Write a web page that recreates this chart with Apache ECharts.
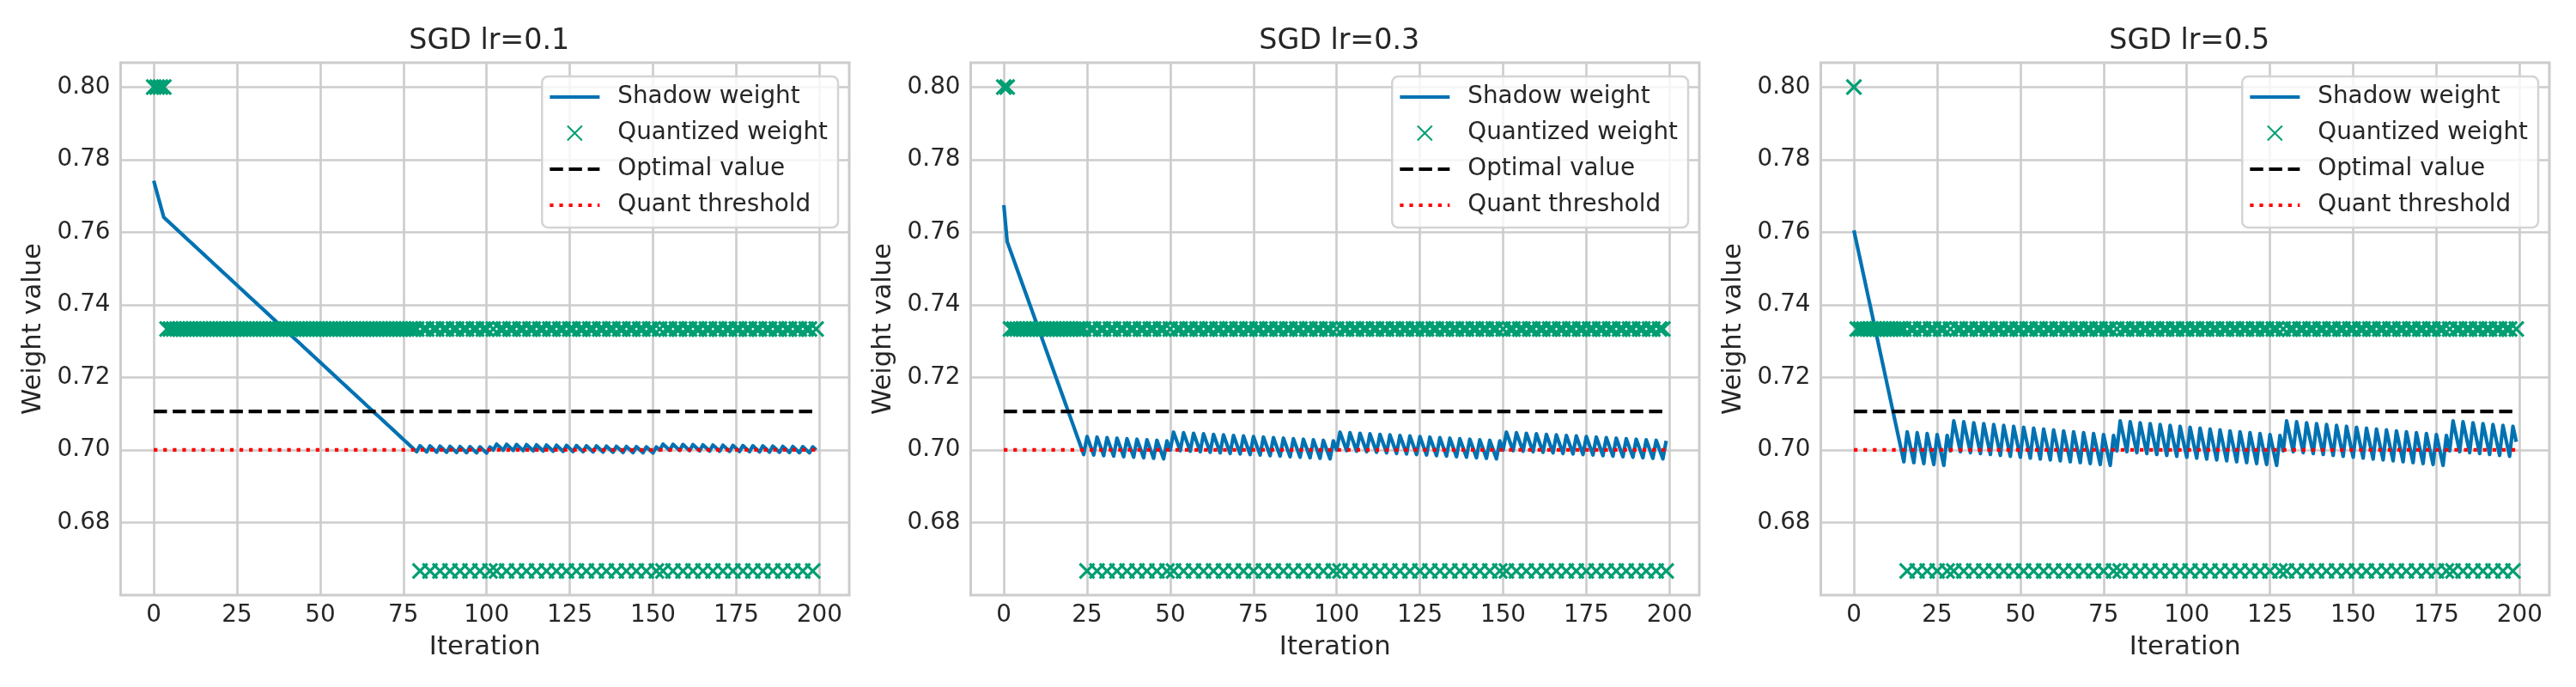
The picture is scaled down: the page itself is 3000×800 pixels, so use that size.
<!DOCTYPE html>
<html>
<head>
<meta charset="utf-8">
<script src="https://cdn.jsdelivr.net/npm/echarts@6/dist/echarts.min.js"></script>
<style>
  html, body { margin: 0; padding: 0; background: #fff; }
  #chart { width: 3000px; height: 800px; }
</style>
</head>
<body>
<div id="chart"></div>
<script>
// panel titles
const panelTitles = ['SGD lr=0.1', 'SGD lr=0.3', 'SGD lr=0.5'];
const seriesNames = ['Shadow weight', 'Quantized weight', 'Optimal value', 'Quant threshold'];

// tick labels
const xTicks = [0, 25, 50, 75, 100, 125, 150, 175, 200];
const yTicks = [0.68, 0.70, 0.72, 0.74, 0.76, 0.78, 0.80];

// reference lines
const optimalValue = 0.7106;
const quantThreshold = 0.70;

// quantization grid, indexed by the digits in the quant strings below
const quantLevels = [0.66667, 0.73333, 0.80];

// shadow weight per iteration (0..199)
const shadow01 = [
  0.77415, 0.77080, 0.76745, 0.76410,
  0.76325, 0.76240, 0.76155, 0.76070, 0.75985, 0.75900, 0.75815, 0.75730, 0.75645, 0.75560,
  0.75475, 0.75390, 0.75305, 0.75220, 0.75135, 0.75050, 0.74965, 0.74880, 0.74795, 0.74710,
  0.74625, 0.74540, 0.74455, 0.74370, 0.74285, 0.74200, 0.74115, 0.74030, 0.73945, 0.73860,
  0.73775, 0.73690, 0.73605, 0.73520, 0.73435, 0.73350, 0.73265, 0.73180, 0.73095, 0.73010,
  0.72925, 0.72840, 0.72755, 0.72670, 0.72585, 0.72500, 0.72415, 0.72330, 0.72245, 0.72160,
  0.72075, 0.71990, 0.71905, 0.71820, 0.71735, 0.71650, 0.71565, 0.71480, 0.71395, 0.71310,
  0.71225, 0.71140, 0.71055, 0.70970, 0.70885, 0.70800, 0.70715, 0.70630, 0.70545, 0.70460,
  0.70375, 0.70290, 0.70205, 0.70120, 0.70035,
  0.69950, 0.70115, 0.70030, 0.69945, 0.70110, 0.70025, 0.69940, 0.70105, 0.70020, 0.69935,
  0.70100, 0.70015, 0.69930, 0.70095, 0.70010, 0.69925, 0.70090, 0.70005, 0.69920, 0.70085,
  0.70000, 0.69915, 0.70080,
  0.69995, 0.70160, 0.70075, 0.69990, 0.70155, 0.70070, 0.69985, 0.70150, 0.70065, 0.69980,
  0.70145, 0.70060, 0.69975, 0.70140, 0.70055, 0.69970, 0.70135, 0.70050, 0.69965, 0.70130,
  0.70045, 0.69960, 0.70125, 0.70040, 0.69955, 0.70120, 0.70035, 0.69950, 0.70115, 0.70030,
  0.69945, 0.70110, 0.70025, 0.69940, 0.70105, 0.70020, 0.69935, 0.70100, 0.70015, 0.69930,
  0.70095, 0.70010, 0.69925, 0.70090, 0.70005, 0.69920, 0.70085, 0.70000, 0.69915, 0.70080,
  0.69995, 0.70160, 0.70075, 0.69990, 0.70155, 0.70070, 0.69985, 0.70150, 0.70065, 0.69980,
  0.70145, 0.70060, 0.69975, 0.70140, 0.70055, 0.69970, 0.70135, 0.70050, 0.69965, 0.70130,
  0.70045, 0.69960, 0.70125, 0.70040, 0.69955, 0.70120, 0.70035, 0.69950, 0.70115, 0.70030,
  0.69945, 0.70110, 0.70025, 0.69940, 0.70105, 0.70020, 0.69935, 0.70100, 0.70015, 0.69930,
  0.70095, 0.70010, 0.69925, 0.70090, 0.70005, 0.69920, 0.70085, 0.70000
];

const shadow03 = [
  0.76745, 0.75740, 0.75485, 0.75230, 0.74975, 0.74720, 0.74465, 0.74210, 0.73955, 0.73700,
  0.73445, 0.73190, 0.72935, 0.72680, 0.72425, 0.72170, 0.71915, 0.71660, 0.71405, 0.71150,
  0.70895, 0.70640, 0.70385, 0.70130,
  0.69875, 0.70370, 0.70115, 0.69860, 0.70355, 0.70100, 0.69845, 0.70340, 0.70085, 0.69830,
  0.70325, 0.70070, 0.69815, 0.70310, 0.70055, 0.69800, 0.70295, 0.70040, 0.69785, 0.70280,
  0.70025, 0.69770, 0.70265, 0.70010, 0.69755, 0.70250,
  0.69995, 0.70490, 0.70235, 0.69980, 0.70475, 0.70220, 0.69965, 0.70460, 0.70205, 0.69950,
  0.70445, 0.70190, 0.69935, 0.70430, 0.70175, 0.69920, 0.70415, 0.70160, 0.69905, 0.70400,
  0.70145, 0.69890, 0.70385, 0.70130, 0.69875, 0.70370, 0.70115, 0.69860, 0.70355, 0.70100,
  0.69845, 0.70340, 0.70085, 0.69830, 0.70325, 0.70070, 0.69815, 0.70310, 0.70055, 0.69800,
  0.70295, 0.70040, 0.69785, 0.70280, 0.70025, 0.69770, 0.70265, 0.70010, 0.69755, 0.70250,
  0.69995, 0.70490, 0.70235, 0.69980, 0.70475, 0.70220, 0.69965, 0.70460, 0.70205, 0.69950,
  0.70445, 0.70190, 0.69935, 0.70430, 0.70175, 0.69920, 0.70415, 0.70160, 0.69905, 0.70400,
  0.70145, 0.69890, 0.70385, 0.70130, 0.69875, 0.70370, 0.70115, 0.69860, 0.70355, 0.70100,
  0.69845, 0.70340, 0.70085, 0.69830, 0.70325, 0.70070, 0.69815, 0.70310, 0.70055, 0.69800,
  0.70295, 0.70040, 0.69785, 0.70280, 0.70025, 0.69770, 0.70265, 0.70010, 0.69755, 0.70250,
  0.69995, 0.70490, 0.70235, 0.69980, 0.70475, 0.70220, 0.69965, 0.70460, 0.70205, 0.69950,
  0.70445, 0.70190, 0.69935, 0.70430, 0.70175, 0.69920, 0.70415, 0.70160, 0.69905, 0.70400,
  0.70145, 0.69890, 0.70385, 0.70130, 0.69875, 0.70370, 0.70115, 0.69860, 0.70355, 0.70100,
  0.69845, 0.70340, 0.70085, 0.69830, 0.70325, 0.70070, 0.69815, 0.70310, 0.70055, 0.69800,
  0.70295, 0.70040, 0.69785, 0.70280, 0.70025, 0.69770, 0.70265, 0.70010, 0.69755, 0.70250
];

const shadow05 = [
  0.76050, 0.75625, 0.75200, 0.74775, 0.74350, 0.73925, 0.73500, 0.73075, 0.72650, 0.72225,
  0.71800, 0.71375, 0.70950, 0.70525, 0.70100,
  0.69675, 0.70500, 0.70075, 0.69650, 0.70475, 0.70050, 0.69625, 0.70450, 0.70025, 0.69600,
  0.70425, 0.70000, 0.69575, 0.70400,
  0.69975, 0.70800, 0.70375, 0.69950, 0.70775, 0.70350, 0.69925, 0.70750, 0.70325, 0.69900,
  0.70725, 0.70300, 0.69875, 0.70700, 0.70275, 0.69850, 0.70675, 0.70250, 0.69825, 0.70650,
  0.70225, 0.69800, 0.70625, 0.70200, 0.69775, 0.70600, 0.70175, 0.69750, 0.70575, 0.70150,
  0.69725, 0.70550, 0.70125, 0.69700, 0.70525, 0.70100, 0.69675, 0.70500, 0.70075, 0.69650,
  0.70475, 0.70050, 0.69625, 0.70450, 0.70025, 0.69600, 0.70425, 0.70000, 0.69575, 0.70400,
  0.69975, 0.70800, 0.70375, 0.69950, 0.70775, 0.70350, 0.69925, 0.70750, 0.70325, 0.69900,
  0.70725, 0.70300, 0.69875, 0.70700, 0.70275, 0.69850, 0.70675, 0.70250, 0.69825, 0.70650,
  0.70225, 0.69800, 0.70625, 0.70200, 0.69775, 0.70600, 0.70175, 0.69750, 0.70575, 0.70150,
  0.69725, 0.70550, 0.70125, 0.69700, 0.70525, 0.70100, 0.69675, 0.70500, 0.70075, 0.69650,
  0.70475, 0.70050, 0.69625, 0.70450, 0.70025, 0.69600, 0.70425, 0.70000, 0.69575, 0.70400,
  0.69975, 0.70800, 0.70375, 0.69950, 0.70775, 0.70350, 0.69925, 0.70750, 0.70325, 0.69900,
  0.70725, 0.70300, 0.69875, 0.70700, 0.70275, 0.69850, 0.70675, 0.70250, 0.69825, 0.70650,
  0.70225, 0.69800, 0.70625, 0.70200, 0.69775, 0.70600, 0.70175, 0.69750, 0.70575, 0.70150,
  0.69725, 0.70550, 0.70125, 0.69700, 0.70525, 0.70100, 0.69675, 0.70500, 0.70075, 0.69650,
  0.70475, 0.70050, 0.69625, 0.70450, 0.70025, 0.69600, 0.70425, 0.70000, 0.69575, 0.70400,
  0.69975, 0.70800, 0.70375, 0.69950, 0.70775, 0.70350, 0.69925, 0.70750, 0.70325, 0.69900,
  0.70725, 0.70300, 0.69875, 0.70700, 0.70275, 0.69850, 0.70675, 0.70250, 0.69825, 0.70650,
  0.70225
];

// quantized weight per iteration: one digit per iteration, 0/1/2 -> quantLevels
const quant01 = [
  '2222',
  '1111111111', '1111111111', '1111111111', '1111111111', '1111111111', '1111111111', '1111111111', '111111',
  '011011011011011011011', '0',
  '1', '011011011011011011011011', '011011011011011011011011', '0',
  '1', '011011011011011011011011', '011011011011011011011', '01'
].join('');

const quant03 = [
  '22',
  '1111111111', '1111111111', '111',
  '011011011011011011011011', '0',
  '1', '011011011011011011011011', '011011011011011011011011', '0',
  '1', '011011011011011011011011', '011011011011011011011011', '0',
  '1', '011011011011011011011011', '011011011011011011011011', '0'
].join('');

const quant05 = [
  '2',
  '1111111111', '11111',
  '011011011011', '0', '1',
  '011011011011011011011011', '011011011011011011011011', '01',
  '011011011011011011011011', '011011011011011011011011', '01',
  '011011011011011011011011', '011011011011011011011011', '01',
  '011011011011011011', '01'
].join('');

const shadowSets = [shadow01, shadow03, shadow05];
const quantSets = [quant01, quant03, quant05];

shadowSets.forEach((s, i) => {
  if (s.length !== 200 || quantSets[i].length !== 200) {
    throw new Error('panel ' + i + ': ' + s.length + ' / ' + quantSets[i].length);
  }
});

const FONT = 'DejaVu Sans';
const TEXT = '#262626';
const BLUE = '#0072B2';
const GREEN = '#009E73';

const gridLefts = [140.5, 1130.5, 2120.5];
const gridWidth = 848.5;
const gridTop = 73;
const gridHeight = 620;

var chartDom = document.getElementById('chart');
var myChart = echarts.init(chartDom, null, {renderer: 'canvas'});

var grids = [], xAxes = [], yAxes = [], titles = [], legends = [], series = [];

panelTitles.forEach((name, i) => {
  const left = gridLefts[i];
  grids.push({
    left: left, top: gridTop, width: gridWidth, height: gridHeight,
    show: true, borderColor: '#cccccc', borderWidth: 3, backgroundColor: '#fff'
  });
  titles.push({
    text: name,
    left: left + gridWidth / 2,
    top: 27,
    textAlign: 'center',
    textStyle: {fontFamily: FONT, fontSize: 33.3, fontWeight: 'normal', color: TEXT}
  });
  xAxes.push({
    gridIndex: i, type: 'value', min: -9.95, max: 208.95,
    name: 'Iteration', nameLocation: 'middle', nameGap: 46, nameMoveOverlap: false,
    nameTextStyle: {fontFamily: FONT, fontSize: 30.6, color: TEXT},
    axisLine: {show: false},
    axisTick: {show: false, customValues: xTicks},
    axisLabel: {customValues: xTicks, margin: 10, fontFamily: FONT, fontSize: 27.8, color: TEXT},
    splitLine: {show: true, lineStyle: {color: '#cccccc', width: 2.6}}
  });
  yAxes.push({
    gridIndex: i, type: 'value', min: 0.66, max: 0.8067,
    name: 'Weight value', nameLocation: 'middle', nameGap: 86, nameMoveOverlap: false,
    nameTextStyle: {fontFamily: FONT, fontSize: 30.6, color: TEXT},
    axisLine: {show: false},
    axisTick: {show: false, customValues: yTicks},
    axisLabel: {
      customValues: yTicks, margin: 12, fontFamily: FONT, fontSize: 27.8, color: TEXT,
      formatter: v => v.toFixed(2)
    },
    splitLine: {show: true, lineStyle: {color: '#cccccc', width: 2.6}}
  });
  legends.push({
    data: [
      {name: seriesNames[0], itemStyle: {opacity: 0}},
      {name: seriesNames[1]},
      {name: seriesNames[2], itemStyle: {opacity: 0}},
      {name: seriesNames[3], itemStyle: {opacity: 0}}
    ],
    orient: 'vertical',
    right: 3000 - (left + gridWidth - 13),
    top: 89,
    align: 'left',
    itemWidth: 58,
    itemHeight: 17,
    itemGap: 12,
    padding: [9, 12, 11, 7],
    backgroundColor: 'rgba(255,255,255,0.8)',
    borderColor: '#d4d4d4',
    borderWidth: 2.5,
    borderRadius: 7,
    selectedMode: false,
    lineStyle: {width: 4.2},
    textStyle: {fontFamily: FONT, fontSize: 27.8, color: TEXT, lineHeight: 30, padding: [0, 0, 0, 16]}
  });

  const shadow = shadowSets[i];
  const quant = quantSets[i];
  const lastIter = shadow.length - 1;

  series.push({
    name: seriesNames[0], type: 'line', xAxisIndex: i, yAxisIndex: i,
    data: shadow.map((w, t) => [t, w]),
    symbol: 'none', showSymbol: false,
    lineStyle: {color: BLUE, width: 4.2, join: 'round'},
    itemStyle: {color: BLUE},
    z: 2
  });
  series.push({
    name: seriesNames[1], type: 'scatter', xAxisIndex: i, yAxisIndex: i,
    data: quant.split('').map((d, t) => [t, quantLevels[+d]]),
    symbol: 'path://M0,0L10,10M10,0L0,10',
    symbolSize: 17,
    symbolKeepAspect: true,
    itemStyle: {color: GREEN, borderColor: GREEN, borderWidth: 3.2, opacity: 1},
    z: 3
  });
  series.push({
    name: seriesNames[2], type: 'line', xAxisIndex: i, yAxisIndex: i,
    data: [[0, optimalValue], [lastIter, optimalValue]],
    symbol: 'none', showSymbol: false,
    lineStyle: {color: '#000000', width: 4.2, type: [15.4, 6.7], cap: 'butt'},
    itemStyle: {color: '#000000'},
    z: 4
  });
  series.push({
    name: seriesNames[3], type: 'line', xAxisIndex: i, yAxisIndex: i,
    data: [[0, quantThreshold], [lastIter, quantThreshold]],
    symbol: 'none', showSymbol: false,
    lineStyle: {color: '#ff0000', width: 4.2, type: [4.2, 6.9], cap: 'butt'},
    itemStyle: {color: '#ff0000'},
    z: 5
  });
});

var option = {
  animation: false,
  backgroundColor: '#ffffff',
  title: titles,
  legend: legends,
  grid: grids,
  xAxis: xAxes,
  yAxis: yAxes,
  series: series
};

option && myChart.setOption(option);
</script>
</body>
</html>
